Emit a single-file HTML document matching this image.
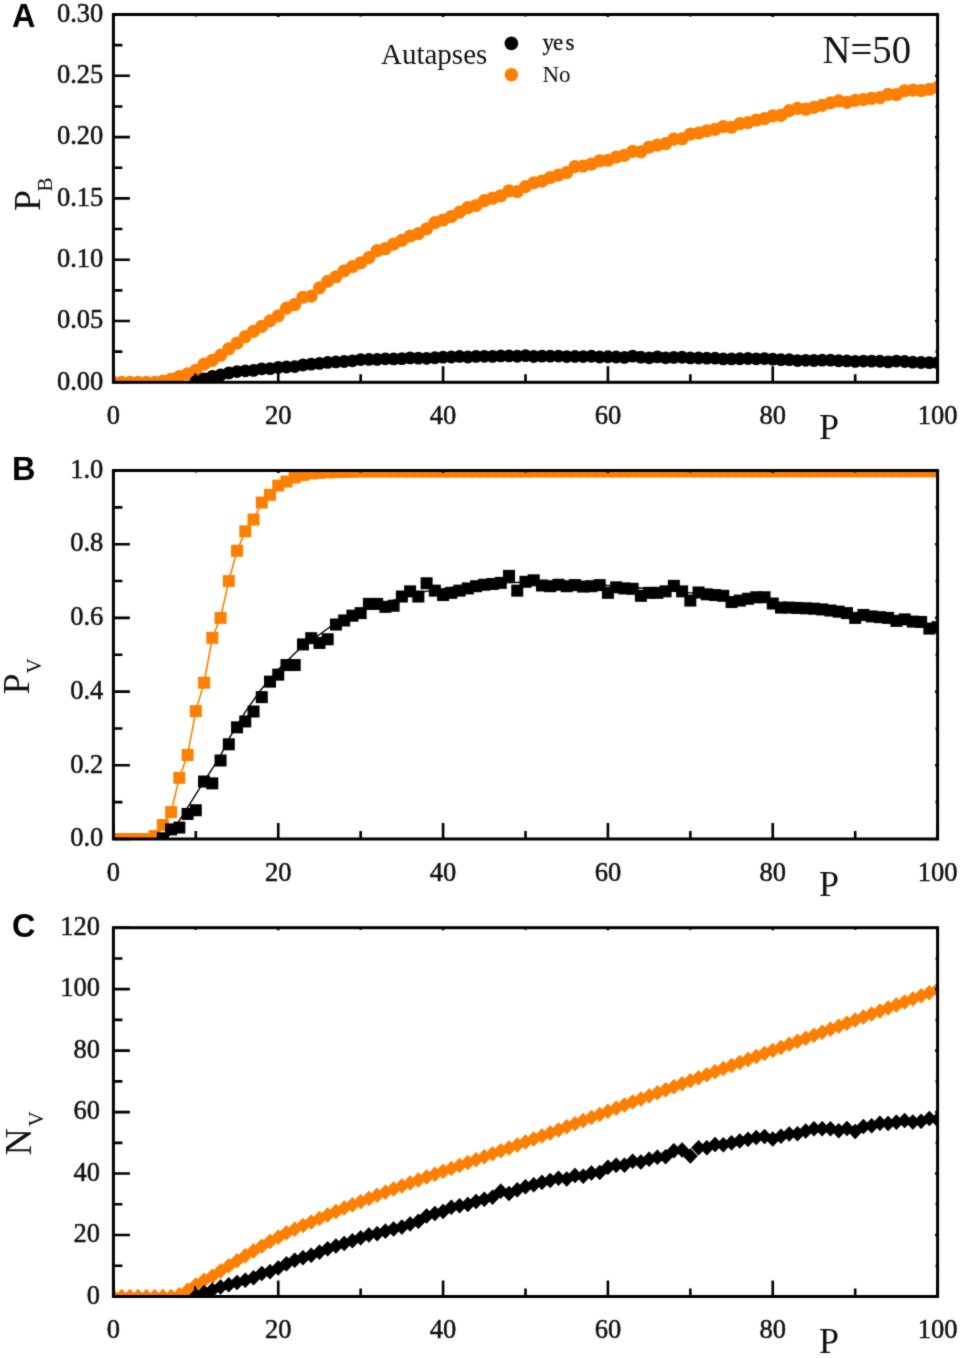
<!DOCTYPE html>
<html><head><meta charset="utf-8"><title>Figure</title>
<style>html,body{margin:0;padding:0;background:#fff;}body{width:961px;height:1358px;overflow:hidden;font-family:"Liberation Serif",serif;}svg{display:block;}</style>
</head><body>
<svg width="961" height="1358" viewBox="0 0 961 1358"><defs><clipPath id="clipA"><rect x="113.4" y="14.5" width="824.2" height="367.8"/></clipPath><clipPath id="clipB"><rect x="113.4" y="470.5" width="824.2" height="368.5"/></clipPath><clipPath id="clipC"><rect x="113.4" y="927.7" width="824.2" height="368.8"/></clipPath><filter id="soft" color-interpolation-filters="sRGB" x="0" y="0" width="961" height="1358" filterUnits="userSpaceOnUse"><feConvolveMatrix order="3" kernelMatrix="1 2 1 2 16 2 1 2 1" edgeMode="duplicate" preserveAlpha="true"/></filter></defs><g filter="url(#soft)"><rect width="961" height="1358" fill="#fff"/>
<g clip-path="url(#clipA)">
<g fill="#ff7f00"><circle cx="113.4" cy="382.3" r="6.6"/><circle cx="121.64" cy="382.3" r="6.6"/><circle cx="129.88" cy="382.3" r="6.6"/><circle cx="138.13" cy="382.3" r="6.6"/><circle cx="146.37" cy="382.3" r="6.6"/><circle cx="154.61" cy="382.3" r="6.6"/><circle cx="162.85" cy="381.07" r="6.6"/><circle cx="171.09" cy="379.24" r="6.6"/><circle cx="179.34" cy="376.54" r="6.6"/><circle cx="187.58" cy="373.96" r="6.6"/><circle cx="195.82" cy="370.29" r="6.6"/><circle cx="204.06" cy="364.16" r="6.6"/><circle cx="212.3" cy="360.33" r="6.6"/><circle cx="220.55" cy="355.45" r="6.6"/><circle cx="228.79" cy="348.74" r="6.6"/><circle cx="237.03" cy="343.04" r="6.6"/><circle cx="245.27" cy="336.55" r="6.6"/><circle cx="253.51" cy="331.41" r="6.6"/><circle cx="261.76" cy="326.43" r="6.6"/><circle cx="270" cy="320.82" r="6.6"/><circle cx="278.24" cy="315.84" r="6.6"/><circle cx="286.48" cy="308.17" r="6.6"/><circle cx="294.72" cy="304.54" r="6.6"/><circle cx="302.97" cy="297.25" r="6.6"/><circle cx="311.21" cy="296.09" r="6.6"/><circle cx="319.45" cy="287.83" r="6.6"/><circle cx="327.69" cy="281.41" r="6.6"/><circle cx="335.93" cy="276.75" r="6.6"/><circle cx="344.18" cy="270.79" r="6.6"/><circle cx="352.42" cy="266.64" r="6.6"/><circle cx="360.66" cy="262.91" r="6.6"/><circle cx="368.9" cy="257.59" r="6.6"/><circle cx="377.14" cy="250.72" r="6.6"/><circle cx="385.39" cy="248.71" r="6.6"/><circle cx="393.63" cy="244.15" r="6.6"/><circle cx="401.87" cy="240.35" r="6.6"/><circle cx="410.11" cy="236" r="6.6"/><circle cx="418.35" cy="233.69" r="6.6"/><circle cx="426.6" cy="228.91" r="6.6"/><circle cx="434.84" cy="222.57" r="6.6"/><circle cx="443.08" cy="220.01" r="6.6"/><circle cx="451.32" cy="216.5" r="6.6"/><circle cx="459.56" cy="212.13" r="6.6"/><circle cx="467.81" cy="207.62" r="6.6"/><circle cx="476.05" cy="205.49" r="6.6"/><circle cx="484.29" cy="200.64" r="6.6"/><circle cx="492.53" cy="198.22" r="6.6"/><circle cx="500.77" cy="195.77" r="6.6"/><circle cx="509.02" cy="190.96" r="6.6"/><circle cx="517.26" cy="191.67" r="6.6"/><circle cx="525.5" cy="186.62" r="6.6"/><circle cx="533.74" cy="182.85" r="6.6"/><circle cx="541.98" cy="181.13" r="6.6"/><circle cx="550.23" cy="177.52" r="6.6"/><circle cx="558.47" cy="175.12" r="6.6"/><circle cx="566.71" cy="172.52" r="6.6"/><circle cx="574.95" cy="166.61" r="6.6"/><circle cx="583.19" cy="166.04" r="6.6"/><circle cx="591.44" cy="164.2" r="6.6"/><circle cx="599.68" cy="160.79" r="6.6"/><circle cx="607.92" cy="160.25" r="6.6"/><circle cx="616.16" cy="157.09" r="6.6"/><circle cx="624.4" cy="155.32" r="6.6"/><circle cx="632.65" cy="151.44" r="6.6"/><circle cx="640.89" cy="151.8" r="6.6"/><circle cx="649.13" cy="147.04" r="6.6"/><circle cx="657.37" cy="145.05" r="6.6"/><circle cx="665.61" cy="143.68" r="6.6"/><circle cx="673.86" cy="139.16" r="6.6"/><circle cx="682.1" cy="138.83" r="6.6"/><circle cx="690.34" cy="134.16" r="6.6"/><circle cx="698.58" cy="133.02" r="6.6"/><circle cx="706.82" cy="130.79" r="6.6"/><circle cx="715.07" cy="129.36" r="6.6"/><circle cx="723.31" cy="126.52" r="6.6"/><circle cx="731.55" cy="127.24" r="6.6"/><circle cx="739.79" cy="123.66" r="6.6"/><circle cx="748.03" cy="122.67" r="6.6"/><circle cx="756.28" cy="120.1" r="6.6"/><circle cx="764.52" cy="118.64" r="6.6"/><circle cx="772.76" cy="115.95" r="6.6"/><circle cx="781" cy="115.35" r="6.6"/><circle cx="789.24" cy="110.69" r="6.6"/><circle cx="797.49" cy="108.38" r="6.6"/><circle cx="805.73" cy="109.21" r="6.6"/><circle cx="813.97" cy="107.38" r="6.6"/><circle cx="822.21" cy="105.44" r="6.6"/><circle cx="830.45" cy="102.95" r="6.6"/><circle cx="838.7" cy="100.84" r="6.6"/><circle cx="846.94" cy="102.4" r="6.6"/><circle cx="855.18" cy="100.34" r="6.6"/><circle cx="863.42" cy="99.49" r="6.6"/><circle cx="871.66" cy="98.28" r="6.6"/><circle cx="879.91" cy="97.54" r="6.6"/><circle cx="888.15" cy="94.32" r="6.6"/><circle cx="896.39" cy="94.59" r="6.6"/><circle cx="904.63" cy="90.75" r="6.6"/><circle cx="912.87" cy="90.11" r="6.6"/><circle cx="921.12" cy="90.7" r="6.6"/><circle cx="929.36" cy="89.27" r="6.6"/><circle cx="937.6" cy="87.43" r="6.6"/></g>
<g fill="#000000"><circle cx="195.82" cy="381.76" r="6.4"/><circle cx="204.06" cy="378.78" r="6.4"/><circle cx="212.3" cy="376.52" r="6.4"/><circle cx="220.55" cy="374.95" r="6.4"/><circle cx="228.79" cy="372.93" r="6.4"/><circle cx="237.03" cy="371.57" r="6.4"/><circle cx="245.27" cy="370.84" r="6.4"/><circle cx="253.51" cy="370.47" r="6.4"/><circle cx="261.76" cy="368.8" r="6.4"/><circle cx="270" cy="368.68" r="6.4"/><circle cx="278.24" cy="367.42" r="6.4"/><circle cx="286.48" cy="367.02" r="6.4"/><circle cx="294.72" cy="366.55" r="6.4"/><circle cx="302.97" cy="364.99" r="6.4"/><circle cx="311.21" cy="364.14" r="6.4"/><circle cx="319.45" cy="363.43" r="6.4"/><circle cx="327.69" cy="362.45" r="6.4"/><circle cx="335.93" cy="361.94" r="6.4"/><circle cx="344.18" cy="361.48" r="6.4"/><circle cx="352.42" cy="360.78" r="6.4"/><circle cx="360.66" cy="359.53" r="6.4"/><circle cx="368.9" cy="359.44" r="6.4"/><circle cx="377.14" cy="359.44" r="6.4"/><circle cx="385.39" cy="358.79" r="6.4"/><circle cx="393.63" cy="358.91" r="6.4"/><circle cx="401.87" cy="358.64" r="6.4"/><circle cx="410.11" cy="357.89" r="6.4"/><circle cx="418.35" cy="358.14" r="6.4"/><circle cx="426.6" cy="358.3" r="6.4"/><circle cx="434.84" cy="357.76" r="6.4"/><circle cx="443.08" cy="357.13" r="6.4"/><circle cx="451.32" cy="356.98" r="6.4"/><circle cx="459.56" cy="356.44" r="6.4"/><circle cx="467.81" cy="357.02" r="6.4"/><circle cx="476.05" cy="356.35" r="6.4"/><circle cx="484.29" cy="356.33" r="6.4"/><circle cx="492.53" cy="356.4" r="6.4"/><circle cx="500.77" cy="355.91" r="6.4"/><circle cx="509.02" cy="355.9" r="6.4"/><circle cx="517.26" cy="356.26" r="6.4"/><circle cx="525.5" cy="355.61" r="6.4"/><circle cx="533.74" cy="356.51" r="6.4"/><circle cx="541.98" cy="356.1" r="6.4"/><circle cx="550.23" cy="356.19" r="6.4"/><circle cx="558.47" cy="356.09" r="6.4"/><circle cx="566.71" cy="356.58" r="6.4"/><circle cx="574.95" cy="356.42" r="6.4"/><circle cx="583.19" cy="356.56" r="6.4"/><circle cx="591.44" cy="356.24" r="6.4"/><circle cx="599.68" cy="356.99" r="6.4"/><circle cx="607.92" cy="356.77" r="6.4"/><circle cx="616.16" cy="356.99" r="6.4"/><circle cx="624.4" cy="357.47" r="6.4"/><circle cx="632.65" cy="356.11" r="6.4"/><circle cx="640.89" cy="357.22" r="6.4"/><circle cx="649.13" cy="357.84" r="6.4"/><circle cx="657.37" cy="356.85" r="6.4"/><circle cx="665.61" cy="357.83" r="6.4"/><circle cx="673.86" cy="357.37" r="6.4"/><circle cx="682.1" cy="357.27" r="6.4"/><circle cx="690.34" cy="357.9" r="6.4"/><circle cx="698.58" cy="357.99" r="6.4"/><circle cx="706.82" cy="358.2" r="6.4"/><circle cx="715.07" cy="358.22" r="6.4"/><circle cx="723.31" cy="358.94" r="6.4"/><circle cx="731.55" cy="358.97" r="6.4"/><circle cx="739.79" cy="358.74" r="6.4"/><circle cx="748.03" cy="358.48" r="6.4"/><circle cx="756.28" cy="358.8" r="6.4"/><circle cx="764.52" cy="358.57" r="6.4"/><circle cx="772.76" cy="359.12" r="6.4"/><circle cx="781" cy="359.71" r="6.4"/><circle cx="789.24" cy="359.71" r="6.4"/><circle cx="797.49" cy="360.56" r="6.4"/><circle cx="805.73" cy="360.32" r="6.4"/><circle cx="813.97" cy="360.48" r="6.4"/><circle cx="822.21" cy="360.16" r="6.4"/><circle cx="830.45" cy="360.17" r="6.4"/><circle cx="838.7" cy="360.76" r="6.4"/><circle cx="846.94" cy="360.91" r="6.4"/><circle cx="855.18" cy="361.41" r="6.4"/><circle cx="863.42" cy="361.08" r="6.4"/><circle cx="871.66" cy="361.12" r="6.4"/><circle cx="879.91" cy="361.24" r="6.4"/><circle cx="888.15" cy="361.87" r="6.4"/><circle cx="896.39" cy="361.04" r="6.4"/><circle cx="904.63" cy="361.52" r="6.4"/><circle cx="912.87" cy="362.18" r="6.4"/><circle cx="921.12" cy="362.52" r="6.4"/><circle cx="929.36" cy="362.63" r="6.4"/><circle cx="937.6" cy="362.63" r="6.4"/></g>
<path d="M195 382.3V373.5" stroke="#000" stroke-width="2"/>
</g>
<rect x="113.4" y="14.5" width="824.2" height="367.8" fill="none" stroke="#000000" stroke-width="3"/>
<path fill="none" stroke="#000000" stroke-width="2.6" d="M113.4 382.3H129.9M937.6 382.3H935.1M113.4 321H129.9M937.6 321H935.1M113.4 259.7H129.9M937.6 259.7H935.1M113.4 198.4H129.9M937.6 198.4H935.1M113.4 137.1H129.9M937.6 137.1H935.1M113.4 75.8H129.9M937.6 75.8H935.1M113.4 14.5H129.9M937.6 14.5H935.1M113.4 351.65H122.4M937.6 351.65H935.6M113.4 290.35H122.4M937.6 290.35H935.6M113.4 229.05H122.4M937.6 229.05H935.6M113.4 167.75H122.4M937.6 167.75H935.6M113.4 106.45H122.4M937.6 106.45H935.6M113.4 45.15H122.4M937.6 45.15H935.6M113.4 382.3V366.3M113.4 14.5V17M278.24 382.3V366.3M278.24 14.5V17M443.08 382.3V366.3M443.08 14.5V17M607.92 382.3V366.3M607.92 14.5V17M772.76 382.3V366.3M772.76 14.5V17M937.6 382.3V366.3M937.6 14.5V17M195.82 382.3V374.3M195.82 14.5V16.5M360.66 382.3V374.3M360.66 14.5V16.5M525.5 382.3V374.3M525.5 14.5V16.5M690.34 382.3V374.3M690.34 14.5V16.5M855.18 382.3V374.3M855.18 14.5V16.5"/>
<g font-family="Liberation Serif" font-size="26.5" text-anchor="end" fill="#111" stroke="#111" stroke-width="0.5"><text x="103.3" y="389.5">0.00</text><text x="103.3" y="328.2">0.05</text><text x="103.3" y="266.9">0.10</text><text x="103.3" y="205.6">0.15</text><text x="103.3" y="144.3">0.20</text><text x="103.3" y="83">0.25</text><text x="103.3" y="21.7">0.30</text></g>
<g font-family="Liberation Serif" font-size="26.5" text-anchor="middle" fill="#111" stroke="#111" stroke-width="0.5"><text x="113.4" y="424">0</text><text x="278.24" y="424">20</text><text x="443.08" y="424">40</text><text x="607.92" y="424">60</text><text x="772.76" y="424">80</text><text x="937.6" y="424">100</text></g>
<text x="819" y="439.3" font-family="Liberation Serif" font-size="36" fill="#111">P</text>
<g clip-path="url(#clipB)">
<polyline fill="none" stroke="#ff7f00" stroke-width="1.6" stroke-linejoin="round" points="113.4,839 121.64,839 129.88,839 138.13,839 146.37,839 154.61,836.05 162.85,825 171.09,812.1 179.34,777.83 187.58,754.98 195.82,711.13 204.06,682.76 212.3,637.8 220.55,617.9 228.79,581.05 237.03,550.83 245.27,531.3 253.51,519.51 261.76,502.56 270,494.82 278.24,485.61 286.48,481.56 294.72,477.5 302.97,474.92 311.21,473.45 319.45,472.9 327.69,472.34 335.93,472.16 344.18,471.97 352.42,471.79 360.66,471.61 368.9,471.6 377.14,471.59 385.39,471.59 393.63,471.58 401.87,471.58 410.11,471.57 418.35,471.57 426.6,471.56 434.84,471.56 443.08,471.55 451.32,471.55 459.56,471.54 467.81,471.54 476.05,471.53 484.29,471.53 492.53,471.52 500.77,471.52 509.02,471.51 517.26,471.51 525.5,471.5 533.74,471.49 541.98,471.49 550.23,471.48 558.47,471.48 566.71,471.47 574.95,471.47 583.19,471.46 591.44,471.46 599.68,471.45 607.92,471.45 616.16,471.44 624.4,471.44 632.65,471.43 640.89,471.43 649.13,471.42 657.37,471.42 665.61,471.41 673.86,471.41 682.1,471.4 690.34,471.39 698.58,471.39 706.82,471.38 715.07,471.38 723.31,471.37 731.55,471.37 739.79,471.36 748.03,471.36 756.28,471.35 764.52,471.35 772.76,471.34 781,471.34 789.24,471.33 797.49,471.33 805.73,471.32 813.97,471.32 822.21,471.31 830.45,471.31 838.7,471.3 846.94,471.29 855.18,471.29 863.42,471.28 871.66,471.28 879.91,471.27 888.15,471.27 896.39,471.26 904.63,471.26 912.87,471.25 921.12,471.25 929.36,471.24 937.6,471.24"/>
<g fill="#ff7f00"><rect x="107.4" y="833" width="12" height="12"/><rect x="115.64" y="833" width="12" height="12"/><rect x="123.88" y="833" width="12" height="12"/><rect x="132.13" y="833" width="12" height="12"/><rect x="140.37" y="833" width="12" height="12"/><rect x="148.61" y="830.05" width="12" height="12"/><rect x="156.85" y="819" width="12" height="12"/><rect x="165.09" y="806.1" width="12" height="12"/><rect x="173.34" y="771.83" width="12" height="12"/><rect x="181.58" y="748.98" width="12" height="12"/><rect x="189.82" y="705.13" width="12" height="12"/><rect x="198.06" y="676.76" width="12" height="12"/><rect x="206.3" y="631.8" width="12" height="12"/><rect x="214.55" y="611.9" width="12" height="12"/><rect x="222.79" y="575.05" width="12" height="12"/><rect x="231.03" y="544.83" width="12" height="12"/><rect x="239.27" y="525.3" width="12" height="12"/><rect x="247.51" y="513.51" width="12" height="12"/><rect x="255.76" y="496.56" width="12" height="12"/><rect x="264" y="488.82" width="12" height="12"/><rect x="272.24" y="479.61" width="12" height="12"/><rect x="280.48" y="475.56" width="12" height="12"/><rect x="288.72" y="471.5" width="12" height="12"/><rect x="296.97" y="468.92" width="12" height="12"/><rect x="305.21" y="467.45" width="12" height="12"/><rect x="313.45" y="466.9" width="12" height="12"/><rect x="321.69" y="466.34" width="12" height="12"/><rect x="329.93" y="466.16" width="12" height="12"/><rect x="338.18" y="465.97" width="12" height="12"/><rect x="346.42" y="465.79" width="12" height="12"/><rect x="354.66" y="465.61" width="12" height="12"/><rect x="362.9" y="465.6" width="12" height="12"/><rect x="371.14" y="465.59" width="12" height="12"/><rect x="379.39" y="465.59" width="12" height="12"/><rect x="387.63" y="465.58" width="12" height="12"/><rect x="395.87" y="465.58" width="12" height="12"/><rect x="404.11" y="465.57" width="12" height="12"/><rect x="412.35" y="465.57" width="12" height="12"/><rect x="420.6" y="465.56" width="12" height="12"/><rect x="428.84" y="465.56" width="12" height="12"/><rect x="437.08" y="465.55" width="12" height="12"/><rect x="445.32" y="465.55" width="12" height="12"/><rect x="453.56" y="465.54" width="12" height="12"/><rect x="461.81" y="465.54" width="12" height="12"/><rect x="470.05" y="465.53" width="12" height="12"/><rect x="478.29" y="465.53" width="12" height="12"/><rect x="486.53" y="465.52" width="12" height="12"/><rect x="494.77" y="465.52" width="12" height="12"/><rect x="503.02" y="465.51" width="12" height="12"/><rect x="511.26" y="465.51" width="12" height="12"/><rect x="519.5" y="465.5" width="12" height="12"/><rect x="527.74" y="465.49" width="12" height="12"/><rect x="535.98" y="465.49" width="12" height="12"/><rect x="544.23" y="465.48" width="12" height="12"/><rect x="552.47" y="465.48" width="12" height="12"/><rect x="560.71" y="465.47" width="12" height="12"/><rect x="568.95" y="465.47" width="12" height="12"/><rect x="577.19" y="465.46" width="12" height="12"/><rect x="585.44" y="465.46" width="12" height="12"/><rect x="593.68" y="465.45" width="12" height="12"/><rect x="601.92" y="465.45" width="12" height="12"/><rect x="610.16" y="465.44" width="12" height="12"/><rect x="618.4" y="465.44" width="12" height="12"/><rect x="626.65" y="465.43" width="12" height="12"/><rect x="634.89" y="465.43" width="12" height="12"/><rect x="643.13" y="465.42" width="12" height="12"/><rect x="651.37" y="465.42" width="12" height="12"/><rect x="659.61" y="465.41" width="12" height="12"/><rect x="667.86" y="465.41" width="12" height="12"/><rect x="676.1" y="465.4" width="12" height="12"/><rect x="684.34" y="465.39" width="12" height="12"/><rect x="692.58" y="465.39" width="12" height="12"/><rect x="700.82" y="465.38" width="12" height="12"/><rect x="709.07" y="465.38" width="12" height="12"/><rect x="717.31" y="465.37" width="12" height="12"/><rect x="725.55" y="465.37" width="12" height="12"/><rect x="733.79" y="465.36" width="12" height="12"/><rect x="742.03" y="465.36" width="12" height="12"/><rect x="750.28" y="465.35" width="12" height="12"/><rect x="758.52" y="465.35" width="12" height="12"/><rect x="766.76" y="465.34" width="12" height="12"/><rect x="775" y="465.34" width="12" height="12"/><rect x="783.24" y="465.33" width="12" height="12"/><rect x="791.49" y="465.33" width="12" height="12"/><rect x="799.73" y="465.32" width="12" height="12"/><rect x="807.97" y="465.32" width="12" height="12"/><rect x="816.21" y="465.31" width="12" height="12"/><rect x="824.45" y="465.31" width="12" height="12"/><rect x="832.7" y="465.3" width="12" height="12"/><rect x="840.94" y="465.29" width="12" height="12"/><rect x="849.18" y="465.29" width="12" height="12"/><rect x="857.42" y="465.28" width="12" height="12"/><rect x="865.66" y="465.28" width="12" height="12"/><rect x="873.91" y="465.27" width="12" height="12"/><rect x="882.15" y="465.27" width="12" height="12"/><rect x="890.39" y="465.26" width="12" height="12"/><rect x="898.63" y="465.26" width="12" height="12"/><rect x="906.87" y="465.25" width="12" height="12"/><rect x="915.12" y="465.25" width="12" height="12"/><rect x="923.36" y="465.24" width="12" height="12"/><rect x="931.6" y="465.24" width="12" height="12"/></g>
<polyline fill="none" stroke="#000000" stroke-width="1.4" stroke-linejoin="round" points="165.32,839 171.09,833.47 181.81,816.52 199.94,787.78 219.72,757.19 229.61,737.66 245.27,711.87 260.93,689.76 278.24,669.49 298.85,649.59 330.16,626.74 360.66,611.64 393.63,600.21 425.77,591.37 459.56,586.21 492.53,583.26 525.5,582.16 566.71,582.89 607.92,585.47 649.13,588.79 690.34,592.84 731.55,597.63 772.76,603.16 813.97,609.06 855.18,615.32 896.39,621.59 937.6,627.85"/>
<g fill="#000000"><rect x="156.85" y="832.26" width="12" height="12"/><rect x="165.09" y="823.42" width="12" height="12"/><rect x="173.34" y="821.58" width="12" height="12"/><rect x="181.58" y="807.94" width="12" height="12"/><rect x="189.82" y="804.26" width="12" height="12"/><rect x="198.06" y="775.51" width="12" height="12"/><rect x="206.3" y="777.36" width="12" height="12"/><rect x="214.55" y="754.51" width="12" height="12"/><rect x="222.79" y="738.3" width="12" height="12"/><rect x="231.03" y="721.34" width="12" height="12"/><rect x="239.27" y="715.45" width="12" height="12"/><rect x="247.51" y="705.5" width="12" height="12"/><rect x="255.76" y="691.13" width="12" height="12"/><rect x="264" y="675.65" width="12" height="12"/><rect x="272.24" y="668.65" width="12" height="12"/><rect x="280.48" y="659.07" width="12" height="12"/><rect x="288.72" y="659.07" width="12" height="12"/><rect x="296.97" y="638.43" width="12" height="12"/><rect x="305.21" y="632.17" width="12" height="12"/><rect x="313.45" y="636.96" width="12" height="12"/><rect x="321.69" y="633.27" width="12" height="12"/><rect x="329.93" y="618.53" width="12" height="12"/><rect x="338.18" y="614.48" width="12" height="12"/><rect x="346.42" y="609.69" width="12" height="12"/><rect x="354.66" y="607.11" width="12" height="12"/><rect x="362.9" y="597.9" width="12" height="12"/><rect x="371.14" y="597.9" width="12" height="12"/><rect x="379.39" y="600.85" width="12" height="12"/><rect x="387.63" y="599.74" width="12" height="12"/><rect x="395.87" y="590.53" width="12" height="12"/><rect x="404.11" y="585.37" width="12" height="12"/><rect x="412.35" y="590.53" width="12" height="12"/><rect x="420.6" y="577.26" width="12" height="12"/><rect x="428.84" y="584.63" width="12" height="12"/><rect x="437.08" y="589.05" width="12" height="12"/><rect x="445.32" y="586.84" width="12" height="12"/><rect x="453.56" y="584.63" width="12" height="12"/><rect x="461.81" y="582.42" width="12" height="12"/><rect x="470.05" y="580.21" width="12" height="12"/><rect x="478.29" y="578.74" width="12" height="12"/><rect x="486.53" y="578" width="12" height="12"/><rect x="494.77" y="576.89" width="12" height="12"/><rect x="503.02" y="569.89" width="12" height="12"/><rect x="511.26" y="584.63" width="12" height="12"/><rect x="519.5" y="575.79" width="12" height="12"/><rect x="527.74" y="574.31" width="12" height="12"/><rect x="535.98" y="579.47" width="12" height="12"/><rect x="544.23" y="580.21" width="12" height="12"/><rect x="552.47" y="578.74" width="12" height="12"/><rect x="560.71" y="580.21" width="12" height="12"/><rect x="568.95" y="579.1" width="12" height="12"/><rect x="577.19" y="580.58" width="12" height="12"/><rect x="585.44" y="580.21" width="12" height="12"/><rect x="593.68" y="579.1" width="12" height="12"/><rect x="601.92" y="586.84" width="12" height="12"/><rect x="610.16" y="581.31" width="12" height="12"/><rect x="618.4" y="582.42" width="12" height="12"/><rect x="626.65" y="582.79" width="12" height="12"/><rect x="634.89" y="589.79" width="12" height="12"/><rect x="643.13" y="586.84" width="12" height="12"/><rect x="651.37" y="586.84" width="12" height="12"/><rect x="659.61" y="585.37" width="12" height="12"/><rect x="667.86" y="579.84" width="12" height="12"/><rect x="676.1" y="585.37" width="12" height="12"/><rect x="684.34" y="594.58" width="12" height="12"/><rect x="692.58" y="586.47" width="12" height="12"/><rect x="700.82" y="588.32" width="12" height="12"/><rect x="709.07" y="589.05" width="12" height="12"/><rect x="717.31" y="589.79" width="12" height="12"/><rect x="725.55" y="596.05" width="12" height="12"/><rect x="733.79" y="594.58" width="12" height="12"/><rect x="742.03" y="592.74" width="12" height="12"/><rect x="750.28" y="591.26" width="12" height="12"/><rect x="758.52" y="591.26" width="12" height="12"/><rect x="766.76" y="597.53" width="12" height="12"/><rect x="775" y="601.58" width="12" height="12"/><rect x="783.24" y="601.58" width="12" height="12"/><rect x="791.49" y="601.95" width="12" height="12"/><rect x="799.73" y="602.32" width="12" height="12"/><rect x="807.97" y="602.69" width="12" height="12"/><rect x="816.21" y="603.42" width="12" height="12"/><rect x="824.45" y="604.53" width="12" height="12"/><rect x="832.7" y="605.64" width="12" height="12"/><rect x="840.94" y="607.11" width="12" height="12"/><rect x="849.18" y="611.9" width="12" height="12"/><rect x="857.42" y="608.95" width="12" height="12"/><rect x="865.66" y="610.43" width="12" height="12"/><rect x="873.91" y="611.16" width="12" height="12"/><rect x="882.15" y="611.9" width="12" height="12"/><rect x="890.39" y="614.85" width="12" height="12"/><rect x="898.63" y="613.37" width="12" height="12"/><rect x="906.87" y="615.59" width="12" height="12"/><rect x="915.12" y="615.95" width="12" height="12"/><rect x="923.36" y="622.59" width="12" height="12"/><rect x="931.6" y="621.11" width="12" height="12"/></g>
</g>
<rect x="113.4" y="470.5" width="824.2" height="368.5" fill="none" stroke="#000000" stroke-width="3"/>
<path fill="none" stroke="#000000" stroke-width="2.6" d="M113.4 839H129.9M937.6 839H935.1M113.4 765.3H129.9M937.6 765.3H935.1M113.4 691.6H129.9M937.6 691.6H935.1M113.4 617.9H129.9M937.6 617.9H935.1M113.4 544.2H129.9M937.6 544.2H935.1M113.4 470.5H129.9M937.6 470.5H935.1M113.4 802.15H122.4M937.6 802.15H935.6M113.4 728.45H122.4M937.6 728.45H935.6M113.4 654.75H122.4M937.6 654.75H935.6M113.4 581.05H122.4M937.6 581.05H935.6M113.4 507.35H122.4M937.6 507.35H935.6M113.4 839V823M113.4 470.5V473M278.24 839V823M278.24 470.5V473M443.08 839V823M443.08 470.5V473M607.92 839V823M607.92 470.5V473M772.76 839V823M772.76 470.5V473M937.6 839V823M937.6 470.5V473M195.82 839V831M195.82 470.5V472.5M360.66 839V831M360.66 470.5V472.5M525.5 839V831M525.5 470.5V472.5M690.34 839V831M690.34 470.5V472.5M855.18 839V831M855.18 470.5V472.5"/>
<g font-family="Liberation Serif" font-size="26.5" text-anchor="end" fill="#111" stroke="#111" stroke-width="0.5"><text x="103.3" y="846.2">0.0</text><text x="103.3" y="772.5">0.2</text><text x="103.3" y="698.8">0.4</text><text x="103.3" y="625.1">0.6</text><text x="103.3" y="551.4">0.8</text><text x="103.3" y="477.7">1.0</text></g>
<g font-family="Liberation Serif" font-size="26.5" text-anchor="middle" fill="#111" stroke="#111" stroke-width="0.5"><text x="113.4" y="880.7">0</text><text x="278.24" y="880.7">20</text><text x="443.08" y="880.7">40</text><text x="607.92" y="880.7">60</text><text x="772.76" y="880.7">80</text><text x="937.6" y="880.7">100</text></g>
<text x="819" y="896" font-family="Liberation Serif" font-size="36" fill="#111">P</text>
<g clip-path="url(#clipC)">
<path fill="#ff7f00" stroke="#ff7f00" stroke-width="0.6" d="M113.4 1289L120.6 1296.5L113.4 1304L106.2 1296.5ZM121.64 1289L128.84 1296.5L121.64 1304L114.44 1296.5ZM129.88 1289L137.08 1296.5L129.88 1304L122.68 1296.5ZM138.13 1289L145.33 1296.5L138.13 1304L130.93 1296.5ZM146.37 1289L153.57 1296.5L146.37 1304L139.17 1296.5ZM154.61 1289L161.81 1296.5L154.61 1304L147.41 1296.5ZM162.85 1289L170.05 1296.5L162.85 1304L155.65 1296.5ZM171.09 1289L178.29 1296.5L171.09 1304L163.89 1296.5ZM179.34 1287.16L186.54 1294.66L179.34 1302.16L172.14 1294.66ZM187.58 1282.85L194.78 1290.35L187.58 1297.85L180.38 1290.35ZM195.82 1277.53L203.02 1285.03L195.82 1292.53L188.62 1285.03ZM204.06 1272.81L211.26 1280.31L204.06 1287.81L196.86 1280.31ZM212.3 1268.72L219.5 1276.22L212.3 1283.72L205.1 1276.22ZM220.55 1263.39L227.75 1270.89L220.55 1278.39L213.35 1270.89ZM228.79 1258.27L235.99 1265.77L228.79 1273.27L221.59 1265.77ZM237.03 1253.35L244.23 1260.85L237.03 1268.35L229.83 1260.85ZM245.27 1248.36L252.47 1255.86L245.27 1263.36L238.07 1255.86ZM253.51 1243.47L260.71 1250.97L253.51 1258.47L246.31 1250.97ZM261.76 1238.76L268.96 1246.26L261.76 1253.76L254.56 1246.26ZM270 1233.99L277.2 1241.49L270 1248.99L262.8 1241.49ZM278.24 1229.66L285.44 1237.16L278.24 1244.66L271.04 1237.16ZM286.48 1225.33L293.68 1232.83L286.48 1240.33L279.28 1232.83ZM294.72 1221.63L301.92 1229.13L294.72 1236.63L287.52 1229.13ZM302.97 1218.09L310.17 1225.59L302.97 1233.09L295.77 1225.59ZM311.21 1214.55L318.41 1222.05L311.21 1229.55L304.01 1222.05ZM319.45 1211.01L326.65 1218.51L319.45 1226.01L312.25 1218.51ZM327.69 1207.47L334.89 1214.97L327.69 1222.47L320.49 1214.97ZM335.93 1203.93L343.13 1211.43L335.93 1218.93L328.73 1211.43ZM344.18 1200.47L351.38 1207.97L344.18 1215.47L336.98 1207.97ZM352.42 1197.3L359.62 1204.8L352.42 1212.3L345.22 1204.8ZM360.66 1194.14L367.86 1201.64L360.66 1209.14L353.46 1201.64ZM368.9 1190.97L376.1 1198.47L368.9 1205.97L361.7 1198.47ZM377.14 1187.8L384.34 1195.3L377.14 1202.8L369.94 1195.3ZM385.39 1184.64L392.59 1192.14L385.39 1199.64L378.19 1192.14ZM393.63 1181.47L400.83 1188.97L393.63 1196.47L386.43 1188.97ZM401.87 1178.42L409.07 1185.92L401.87 1193.42L394.67 1185.92ZM410.11 1175.44L417.31 1182.94L410.11 1190.44L402.91 1182.94ZM418.35 1172.46L425.55 1179.96L418.35 1187.46L411.15 1179.96ZM426.6 1169.53L433.8 1177.03L426.6 1184.53L419.4 1177.03ZM434.84 1166.65L442.04 1174.15L434.84 1181.65L427.64 1174.15ZM443.08 1163.77L450.28 1171.27L443.08 1178.77L435.88 1171.27ZM451.32 1160.89L458.52 1168.39L451.32 1175.89L444.12 1168.39ZM459.56 1158.02L466.76 1165.52L459.56 1173.02L452.36 1165.52ZM467.81 1155.1L475.01 1162.6L467.81 1170.1L460.61 1162.6ZM476.05 1152.17L483.25 1159.67L476.05 1167.17L468.85 1159.67ZM484.29 1149.23L491.49 1156.73L484.29 1164.23L477.09 1156.73ZM492.53 1146.3L499.73 1153.8L492.53 1161.3L485.33 1153.8ZM500.77 1143.37L507.97 1150.87L500.77 1158.37L493.57 1150.87ZM509.02 1140.43L516.22 1147.93L509.02 1155.43L501.82 1147.93ZM517.26 1137.49L524.46 1144.99L517.26 1152.49L510.06 1144.99ZM525.5 1134.48L532.7 1141.98L525.5 1149.48L518.3 1141.98ZM533.74 1131.46L540.94 1138.96L533.74 1146.46L526.54 1138.96ZM541.98 1128.44L549.18 1135.94L541.98 1143.44L534.78 1135.94ZM550.23 1125.43L557.43 1132.93L550.23 1140.43L543.03 1132.93ZM558.47 1122.41L565.67 1129.91L558.47 1137.41L551.27 1129.91ZM566.71 1119.32L573.91 1126.82L566.71 1134.32L559.51 1126.82ZM574.95 1116.22L582.15 1123.72L574.95 1131.22L567.75 1123.72ZM583.19 1113.11L590.39 1120.61L583.19 1128.11L575.99 1120.61ZM591.44 1110L598.64 1117.5L591.44 1125L584.24 1117.5ZM599.68 1106.89L606.88 1114.39L599.68 1121.89L592.48 1114.39ZM607.92 1103.78L615.12 1111.28L607.92 1118.78L600.72 1111.28ZM616.16 1100.67L623.36 1108.17L616.16 1115.67L608.96 1108.17ZM624.4 1097.57L631.6 1105.07L624.4 1112.57L617.2 1105.07ZM632.65 1094.46L639.85 1101.96L632.65 1109.46L625.45 1101.96ZM640.89 1091.43L648.09 1098.93L640.89 1106.43L633.69 1098.93ZM649.13 1088.39L656.33 1095.89L649.13 1103.39L641.93 1095.89ZM657.37 1085.36L664.57 1092.86L657.37 1100.36L650.17 1092.86ZM665.61 1082.33L672.81 1089.83L665.61 1097.33L658.41 1089.83ZM673.86 1079.3L681.06 1086.8L673.86 1094.3L666.66 1086.8ZM682.1 1076.27L689.3 1083.77L682.1 1091.27L674.9 1083.77ZM690.34 1073.24L697.54 1080.74L690.34 1088.24L683.14 1080.74ZM698.58 1070.2L705.78 1077.7L698.58 1085.2L691.38 1077.7ZM706.82 1067.17L714.02 1074.67L706.82 1082.17L699.62 1074.67ZM715.07 1064.14L722.27 1071.64L715.07 1079.14L707.87 1071.64ZM723.31 1061.11L730.51 1068.61L723.31 1076.11L716.11 1068.61ZM731.55 1058.08L738.75 1065.58L731.55 1073.08L724.35 1065.58ZM739.79 1055.04L746.99 1062.54L739.79 1070.04L732.59 1062.54ZM748.03 1052.01L755.23 1059.51L748.03 1067.01L740.83 1059.51ZM756.28 1048.98L763.48 1056.48L756.28 1063.98L749.08 1056.48ZM764.52 1045.95L771.72 1053.45L764.52 1060.95L757.32 1053.45ZM772.76 1042.92L779.96 1050.42L772.76 1057.92L765.56 1050.42ZM781 1039.89L788.2 1047.39L781 1054.89L773.8 1047.39ZM789.24 1036.85L796.44 1044.35L789.24 1051.85L782.04 1044.35ZM797.49 1033.82L804.69 1041.32L797.49 1048.82L790.29 1041.32ZM805.73 1030.79L812.93 1038.29L805.73 1045.79L798.53 1038.29ZM813.97 1027.76L821.17 1035.26L813.97 1042.76L806.77 1035.26ZM822.21 1024.73L829.41 1032.23L822.21 1039.73L815.01 1032.23ZM830.45 1021.69L837.65 1029.19L830.45 1036.69L823.25 1029.19ZM838.7 1018.66L845.9 1026.16L838.7 1033.66L831.5 1026.16ZM846.94 1015.63L854.14 1023.13L846.94 1030.63L839.74 1023.13ZM855.18 1012.6L862.38 1020.1L855.18 1027.6L847.98 1020.1ZM863.42 1009.57L870.62 1017.07L863.42 1024.57L856.22 1017.07ZM871.66 1006.54L878.86 1014.04L871.66 1021.54L864.46 1014.04ZM879.91 1003.5L887.11 1011L879.91 1018.5L872.71 1011ZM888.15 1000.47L895.35 1007.97L888.15 1015.47L880.95 1007.97ZM896.39 997.44L903.59 1004.94L896.39 1012.44L889.19 1004.94ZM904.63 994.41L911.83 1001.91L904.63 1009.41L897.43 1001.91ZM912.87 991.38L920.07 998.88L912.87 1006.38L905.67 998.88ZM921.12 988.34L928.32 995.84L921.12 1003.34L913.92 995.84ZM929.36 985.31L936.56 992.81L929.36 1000.31L922.16 992.81ZM937.6 982.28L944.8 989.78L937.6 997.28L930.4 989.78Z"/>
<path fill="#000000" stroke="#000000" stroke-width="0.6" d="M195.82 1288.5L203.02 1296L195.82 1303.5L188.62 1296ZM204.06 1285.03L211.26 1292.53L204.06 1300.03L196.86 1292.53ZM212.3 1282.57L219.5 1290.07L212.3 1297.57L205.1 1290.07ZM220.55 1279.43L227.75 1286.93L220.55 1294.43L213.35 1286.93ZM228.79 1277.31L235.99 1284.81L228.79 1292.31L221.59 1284.81ZM237.03 1274.99L244.23 1282.49L237.03 1289.99L229.83 1282.49ZM245.27 1272.73L252.47 1280.23L245.27 1287.73L238.07 1280.23ZM253.51 1270.27L260.71 1277.77L253.51 1285.27L246.31 1277.77ZM261.76 1265.94L268.96 1273.44L261.76 1280.94L254.56 1273.44ZM270 1264.15L277.2 1271.65L270 1279.15L262.8 1271.65ZM278.24 1260.41L285.44 1267.91L278.24 1275.41L271.04 1267.91ZM286.48 1256.32L293.68 1263.82L286.48 1271.32L279.28 1263.82ZM294.72 1252.71L301.92 1260.21L294.72 1267.71L287.52 1260.21ZM302.97 1250.23L310.17 1257.73L302.97 1265.23L295.77 1257.73ZM311.21 1247.75L318.41 1255.25L311.21 1262.75L304.01 1255.25ZM319.45 1244.71L326.65 1252.21L319.45 1259.71L312.25 1252.21ZM327.69 1241.3L334.89 1248.8L327.69 1256.3L320.49 1248.8ZM335.93 1238.57L343.13 1246.07L335.93 1253.57L328.73 1246.07ZM344.18 1235.88L351.38 1243.38L344.18 1250.88L336.98 1243.38ZM352.42 1233.2L359.62 1240.7L352.42 1248.2L345.22 1240.7ZM360.66 1230.37L367.86 1237.87L360.66 1245.37L353.46 1237.87ZM368.9 1227.45L376.1 1234.95L368.9 1242.45L361.7 1234.95ZM377.14 1226.15L384.34 1233.65L377.14 1241.15L369.94 1233.65ZM385.39 1223.64L392.59 1231.14L385.39 1238.64L378.19 1231.14ZM393.63 1221.39L400.83 1228.89L393.63 1236.39L386.43 1228.89ZM401.87 1219.57L409.07 1227.07L401.87 1234.57L394.67 1227.07ZM410.11 1216.39L417.31 1223.89L410.11 1231.39L402.91 1223.89ZM418.35 1213.86L425.55 1221.36L418.35 1228.86L411.15 1221.36ZM426.6 1208.5L433.8 1216L426.6 1223.5L419.4 1216ZM434.84 1205.96L442.04 1213.46L434.84 1220.96L427.64 1213.46ZM443.08 1203.91L450.28 1211.41L443.08 1218.91L435.88 1211.41ZM451.32 1199.82L458.52 1207.32L451.32 1214.82L444.12 1207.32ZM459.56 1198.21L466.76 1205.71L459.56 1213.21L452.36 1205.71ZM467.81 1196.89L475.01 1204.39L467.81 1211.89L460.61 1204.39ZM476.05 1194.01L483.25 1201.51L476.05 1209.01L468.85 1201.51ZM484.29 1191.81L491.49 1199.31L484.29 1206.81L477.09 1199.31ZM492.53 1189.68L499.73 1197.18L492.53 1204.68L485.33 1197.18ZM500.77 1183.63L507.97 1191.13L500.77 1198.63L493.57 1191.13ZM509.02 1186.07L516.22 1193.57L509.02 1201.07L501.82 1193.57ZM517.26 1182.34L524.46 1189.84L517.26 1197.34L510.06 1189.84ZM525.5 1179.21L532.7 1186.71L525.5 1194.21L518.3 1186.71ZM533.74 1177.21L540.94 1184.71L533.74 1192.21L526.54 1184.71ZM541.98 1174.87L549.18 1182.37L541.98 1189.87L534.78 1182.37ZM550.23 1172.94L557.43 1180.44L550.23 1187.94L543.03 1180.44ZM558.47 1170.83L565.67 1178.33L558.47 1185.83L551.27 1178.33ZM566.71 1171.5L573.91 1179L566.71 1186.5L559.51 1179ZM574.95 1167.88L582.15 1175.38L574.95 1182.88L567.75 1175.38ZM583.19 1168.63L590.39 1176.13L583.19 1183.63L575.99 1176.13ZM591.44 1165.45L598.64 1172.95L591.44 1180.45L584.24 1172.95ZM599.68 1164.9L606.88 1172.4L599.68 1179.9L592.48 1172.4ZM607.92 1159.84L615.12 1167.34L607.92 1174.84L600.72 1167.34ZM616.16 1157.76L623.36 1165.26L616.16 1172.76L608.96 1165.26ZM624.4 1157.63L631.6 1165.13L624.4 1172.63L617.2 1165.13ZM632.65 1153.72L639.85 1161.22L632.65 1168.72L625.45 1161.22ZM640.89 1154.53L648.09 1162.03L640.89 1169.53L633.69 1162.03ZM649.13 1151.7L656.33 1159.2L649.13 1166.7L641.93 1159.2ZM657.37 1149.76L664.57 1157.26L657.37 1164.76L650.17 1157.26ZM665.61 1149.13L672.81 1156.63L665.61 1164.13L658.41 1156.63ZM673.86 1143.25L681.06 1150.75L673.86 1158.25L666.66 1150.75ZM682.1 1142.43L689.3 1149.93L682.1 1157.43L674.9 1149.93ZM690.34 1148.57L697.54 1156.07L690.34 1163.57L683.14 1156.07ZM698.58 1140.23L705.78 1147.73L698.58 1155.23L691.38 1147.73ZM706.82 1140.16L714.02 1147.66L706.82 1155.16L699.62 1147.66ZM715.07 1137L722.27 1144.5L715.07 1152L707.87 1144.5ZM723.31 1137.29L730.51 1144.79L723.31 1152.29L716.11 1144.79ZM731.55 1135.37L738.75 1142.87L731.55 1150.37L724.35 1142.87ZM739.79 1133.42L746.99 1140.92L739.79 1148.42L732.59 1140.92ZM748.03 1131.86L755.23 1139.36L748.03 1146.86L740.83 1139.36ZM756.28 1130.08L763.48 1137.58L756.28 1145.08L749.08 1137.58ZM764.52 1129.05L771.72 1136.55L764.52 1144.05L757.32 1136.55ZM772.76 1131.52L779.96 1139.02L772.76 1146.52L765.56 1139.02ZM781 1128.65L788.2 1136.15L781 1143.65L773.8 1136.15ZM789.24 1126.46L796.44 1133.96L789.24 1141.46L782.04 1133.96ZM797.49 1126.24L804.69 1133.74L797.49 1141.24L790.29 1133.74ZM805.73 1123.6L812.93 1131.1L805.73 1138.6L798.53 1131.1ZM813.97 1121.21L821.17 1128.71L813.97 1136.21L806.77 1128.71ZM822.21 1121.2L829.41 1128.7L822.21 1136.2L815.01 1128.7ZM830.45 1121.2L837.65 1128.7L830.45 1136.2L823.25 1128.7ZM838.7 1123.28L845.9 1130.78L838.7 1138.28L831.5 1130.78ZM846.94 1121.08L854.14 1128.58L846.94 1136.08L839.74 1128.58ZM855.18 1123.93L862.38 1131.43L855.18 1138.93L847.98 1131.43ZM863.42 1118.98L870.62 1126.48L863.42 1133.98L856.22 1126.48ZM871.66 1118.26L878.86 1125.76L871.66 1133.26L864.46 1125.76ZM879.91 1115.71L887.11 1123.21L879.91 1130.71L872.71 1123.21ZM888.15 1115.95L895.35 1123.45L888.15 1130.95L880.95 1123.45ZM896.39 1114.65L903.59 1122.15L896.39 1129.65L889.19 1122.15ZM904.63 1113.07L911.83 1120.57L904.63 1128.07L897.43 1120.57ZM912.87 1114.58L920.07 1122.08L912.87 1129.58L905.67 1122.08ZM921.12 1113.83L928.32 1121.33L921.12 1128.83L913.92 1121.33ZM929.36 1111.03L936.56 1118.53L929.36 1126.03L922.16 1118.53ZM937.6 1112.26L944.8 1119.76L937.6 1127.26L930.4 1119.76Z"/>
<path d="M195 1296.5V1286" stroke="#000" stroke-width="2"/>
</g>
<rect x="113.4" y="927.7" width="824.2" height="368.8" fill="none" stroke="#000000" stroke-width="3"/>
<path fill="none" stroke="#000000" stroke-width="2.6" d="M113.4 1296.5H129.9M937.6 1296.5H935.1M113.4 1235.03H129.9M937.6 1235.03H935.1M113.4 1173.57H129.9M937.6 1173.57H935.1M113.4 1112.1H129.9M937.6 1112.1H935.1M113.4 1050.63H129.9M937.6 1050.63H935.1M113.4 989.17H129.9M937.6 989.17H935.1M113.4 927.7H129.9M937.6 927.7H935.1M113.4 1265.77H122.4M937.6 1265.77H935.6M113.4 1204.3H122.4M937.6 1204.3H935.6M113.4 1142.83H122.4M937.6 1142.83H935.6M113.4 1081.37H122.4M937.6 1081.37H935.6M113.4 1019.9H122.4M937.6 1019.9H935.6M113.4 958.43H122.4M937.6 958.43H935.6M113.4 1296.5V1280.5M113.4 927.7V930.2M278.24 1296.5V1280.5M278.24 927.7V930.2M443.08 1296.5V1280.5M443.08 927.7V930.2M607.92 1296.5V1280.5M607.92 927.7V930.2M772.76 1296.5V1280.5M772.76 927.7V930.2M937.6 1296.5V1280.5M937.6 927.7V930.2M195.82 1296.5V1288.5M195.82 927.7V929.7M360.66 1296.5V1288.5M360.66 927.7V929.7M525.5 1296.5V1288.5M525.5 927.7V929.7M690.34 1296.5V1288.5M690.34 927.7V929.7M855.18 1296.5V1288.5M855.18 927.7V929.7"/>
<g font-family="Liberation Serif" font-size="26.5" text-anchor="end" fill="#111" stroke="#111" stroke-width="0.5"><text x="100" y="1303.7">0</text><text x="100" y="1242.23">20</text><text x="100" y="1180.77">40</text><text x="100" y="1119.3">60</text><text x="100" y="1057.83">80</text><text x="100" y="996.37">100</text><text x="100" y="934.9">120</text></g>
<g font-family="Liberation Serif" font-size="26.5" text-anchor="middle" fill="#111" stroke="#111" stroke-width="0.5"><text x="113.4" y="1338.2">0</text><text x="278.24" y="1338.2">20</text><text x="443.08" y="1338.2">40</text><text x="607.92" y="1338.2">60</text><text x="772.76" y="1338.2">80</text><text x="937.6" y="1338.2">100</text></g>
<text x="819" y="1352.5" font-family="Liberation Serif" font-size="36" fill="#111">P</text>
<text x="381" y="64" font-family="Liberation Serif" font-size="29" fill="#111">Autapses</text>
<circle cx="511.4" cy="43.4" r="6.8" fill="#000"/>
<circle cx="511.4" cy="74.7" r="6.8" fill="#ff7f00"/>
<text y="50.2" font-family="Liberation Serif" font-size="23" fill="#111" stroke="#111" stroke-width="0.3"><tspan x="542.5">y</tspan><tspan x="553">e</tspan><tspan x="565.5">s</tspan></text>
<text x="542.5" y="82.4" font-family="Liberation Serif" font-size="23" fill="#111">No</text>
<text x="822.5" y="63.1" font-family="Liberation Serif" font-size="40.8" textLength="88.5" lengthAdjust="spacingAndGlyphs" fill="#111">N=50</text>
<text x="12" y="27.2" font-family="Liberation Sans" font-weight="bold" font-size="32.5" fill="#000">A</text>
<text x="12" y="479.8" font-family="Liberation Sans" font-weight="bold" font-size="32.5" fill="#000">B</text>
<text x="12" y="936.8" font-family="Liberation Sans" font-weight="bold" font-size="32.5" fill="#000">C</text>
<text transform="translate(40 211) rotate(-90)" font-family="Liberation Serif" font-size="38" fill="#111">P</text><text transform="translate(52 191.5) rotate(-90)" font-family="Liberation Serif" font-size="21" fill="#111">B</text>
<text transform="translate(28.7 694.5) rotate(-90)" font-family="Liberation Serif" font-size="38" fill="#111">P</text><text transform="translate(41.2 673.5) rotate(-90)" font-family="Liberation Serif" font-size="21" fill="#111">V</text>
<text transform="translate(30.9 1155.5) rotate(-90)" font-family="Liberation Serif" font-size="38" fill="#111">N</text><text transform="translate(43 1126.5) rotate(-90)" font-family="Liberation Serif" font-size="21" fill="#111">V</text>
</g></svg>
</body></html>
